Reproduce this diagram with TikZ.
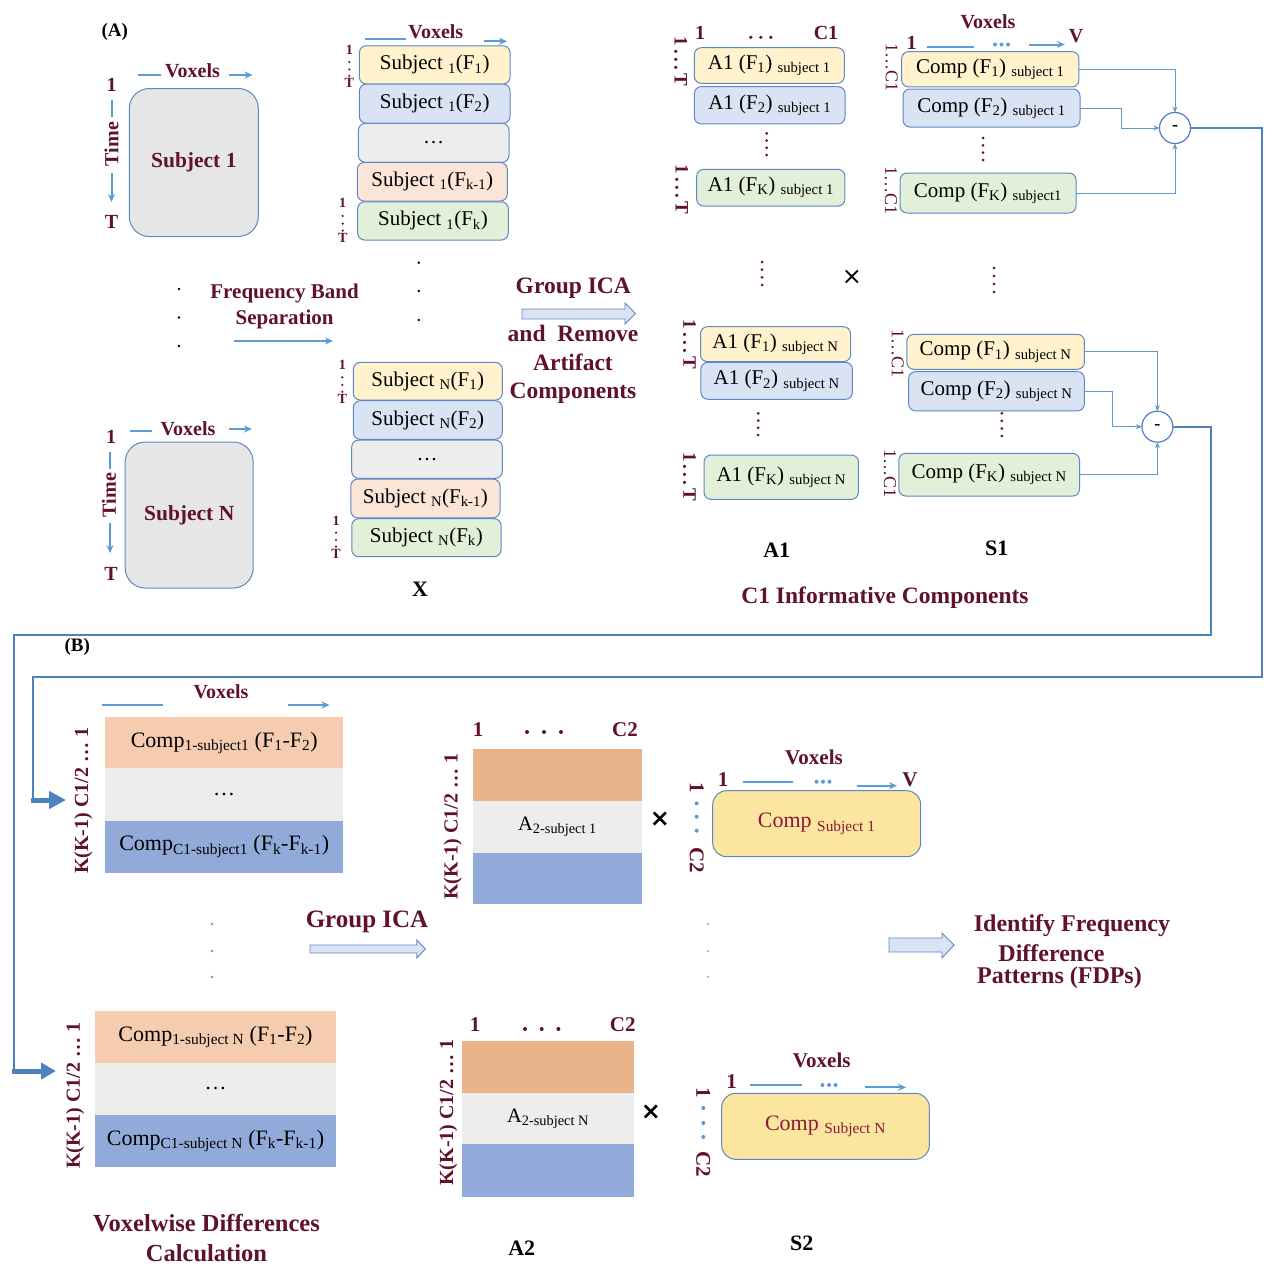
\documentclass[tikz,border=0pt]{standalone}
\usepackage{fontspec}
\setmainfont{Liberation Serif}
\newfontfamily\djv{DejaVu Sans}
\usetikzlibrary{arrows.meta}
\definecolor{mrn}{RGB}{96,17,48}
\definecolor{lblue}{RGB}{91,155,213}
\definecolor{bblue}{RGB}{95,135,195}
\definecolor{cblue}{RGB}{79,129,189}
\definecolor{fyel}{RGB}{255,242,204}
\definecolor{fblu}{RGB}{218,227,243}
\definecolor{fgry}{RGB}{237,237,237}
\definecolor{fpch}{RGB}{251,229,214}
\definecolor{fgrn}{RGB}{226,240,217}
\definecolor{bpch}{RGB}{245,204,175}
\definecolor{aorg}{RGB}{233,179,138}
\definecolor{bblu}{RGB}{146,170,218}
\definecolor{sgold}{RGB}{252,229,158}
\definecolor{sbox}{RGB}{230,230,230}
\definecolor{ctxt}{RGB}{140,25,55}
\newcommand\fsz[2]{\fontsize{#1}{#2}\selectfont}
\newcommand\lsub[1]{\textsubscript{#1}}
\newcommand\vd[3]{\foreach \kk in {0,1,2,3} \fill[mrn] (#1,{#2+\kk*(#3-#2)/3}) circle (1.5pt);}
\newcommand\tlab[4]{\node[tl] (#4a) at (#1,#2) {1}; \node[tl] (#4b) at (#1,#3) {T}; \foreach \ff in {0.36,0.58,0.78} \fill[mrn] (#1,{#2+\ff*(#3-#2)}) circle (1.2pt);}
\tikzset{
 every node/.style={inner sep=0pt, outer sep=0pt},
 lab/.style={font=\bfseries\fsz{20}{24}, text=mrn},
 blk/.style={font=\bfseries\fsz{22}{24}, text=black},
 biglab/.style={font=\bfseries\fsz{23.5}{28}, text=mrn, align=center},
 band/.style={draw=bblue, line width=1pt, rounded corners=7pt, font=\fsz{21}{24}},
 mat/.style={font=\fsz{22}{24}},
 subj/.style={draw=bblue, line width=1pt, rounded corners=20pt, fill=sbox, font=\bfseries\fsz{21.5}{24}, text=mrn},
 s2box/.style={draw=bblue, line width=1pt, rounded corners=14pt, fill=sgold, font=\fsz{22}{24}, text=ctxt},
 ar/.style={draw=lblue, line width=2pt, -{Stealth[length=8pt,width=7pt]}},
 ln/.style={draw=lblue, line width=2pt},
 thinar/.style={draw=lblue, line width=0.9pt, -{Stealth[length=6pt,width=5pt]}},
 rl/.style={font=\bfseries\fsz{19}{22}, text=mrn, rotate=-90},
 rltwo/.style={font=\fsz{18}{20}, text=mrn, rotate=-90},
 rlb/.style={font=\bfseries\fsz{20}{22}, text=mrn, rotate=90},
 rlc/.style={font=\bfseries\fsz{21}{22}, text=mrn, rotate=-90},
 tl/.style={font=\bfseries\fsz{14}{15}, text=mrn},
 hollow/.style={draw=bblue, fill=fblu, line width=0.9pt},
 minus/.style={circle, draw=cblue, line width=1.2pt, minimum size=31pt, fill=white, font=\bfseries\fsz{18}{20}},
 conn/.style={draw=cblue, line width=2pt},
 cross/.style={font=\djv\bfseries\fsz{24}{24}},
}
\begin{document}
\begin{tikzpicture}[x=1pt,y=-1pt]
\useasboundingbox (0,0) rectangle (1276,1272);
\fill[white] (0,0) rectangle (1276,1272);

% ---------------- (A) ----------------
\node[font=\bfseries\fsz{19}{20}] (lA) at (114.7,31.7) {(A)};

% Subject 1
\node[subj, minimum width=129pt, minimum height=148pt] (sub1) at (193.8,162.5) {Subject 1};
\node[lab] (vx1) at (192.5,71) {Voxels};
\draw[ln] (138,75) -- (161,75);
\draw[ar] (229,75) -- (252.5,75);
\node[lab] (one1) at (111.5,85) {1};
\draw[ln] (111.5,100) -- (111.5,117);
\node[lab, rotate=90] (tm1) at (111.5,144) {Time};
\draw[ar] (111.5,172.5) -- (111.5,202);
\node[lab] (T1) at (111.5,221.7) {T};

% Subject N
\node[subj, minimum width=128pt, minimum height=146pt] (subN) at (189.2,515) {Subject N};
\node[lab] (vxN) at (188,429) {Voxels};
\draw[ln] (130,431) -- (152,431);
\draw[ar] (229,429) -- (252,429);
\node[lab] (oneN) at (111,437) {1};
\draw[ln] (110,452) -- (110,469);
\node[lab, rotate=90] (tmN) at (109,495) {Time};
\draw[ar] (110,523) -- (110,553);
\node[lab] (TN) at (111,574) {T};

\foreach \yy in {289,317.5,346} \fill (179,\yy) circle (1.4pt);
\foreach \yy in {262.7,291,320} \fill (418.7,\yy) circle (1.4pt);

\node[biglab, font=\bfseries\fsz{21}{26}] (fb) at (284.6,306.3) {Frequency Band\\Separation};
\draw[ar] (234,341) -- (333,341);

% stack subject 1
\node[band, fill=fyel, minimum width=150.7pt, minimum height=38.3pt] (s1a) at (434.7,64.9) {Subject \lsub{1}(F\lsub{1})};
\node[band, fill=fblu, minimum width=150.7pt, minimum height=39.3pt] (s1b) at (434.7,103.7) {Subject \lsub{1}(F\lsub{2})};
\node[band, fill=fgry, minimum width=150.7pt, minimum height=39pt] (s1c) at (433.7,142.8) {…};
\node[band, fill=fpch, minimum width=150pt, minimum height=38.7pt] (s1d) at (432.3,181.7) {Subject \lsub{1}(F\lsub{k-1})};
\node[band, fill=fgrn, minimum width=150.6pt, minimum height=38.3pt] (s1e) at (433,220.9) {Subject \lsub{1}(F\lsub{k})};
\node[lab] (vxs1) at (435.8,31.7) {Voxels};
\draw[ln] (365,39.3) -- (406,39.3);
\draw[ar] (484,41.3) -- (507,41.3);
\tlab{349.3}{50}{83.3}{ta}
\tlab{342.7}{203.3}{238.3}{tb}

% stack subject N
\node[band, fill=fyel, minimum width=149pt, minimum height=37.7pt] (sna) at (427.8,381.2) {Subject \lsub{N}(F\lsub{1})};
\node[band, fill=fblu, minimum width=149pt, minimum height=38.6pt] (snb) at (427.8,420) {Subject \lsub{N}(F\lsub{2})};
\node[band, fill=fgry, minimum width=150.6pt, minimum height=38.3pt] (snc) at (427,459.2) {…};
\node[band, fill=fpch, minimum width=149.3pt, minimum height=38.7pt] (snd) at (425.4,498.4) {Subject \lsub{N}(F\lsub{k-1})};
\node[band, fill=fgrn, minimum width=149.3pt, minimum height=38pt] (sne) at (426.4,537.7) {Subject \lsub{N}(F\lsub{k})};
\tlab{342.3}{365}{399.3}{tc}
\tlab{336}{520.7}{554}{td}
\node[blk] (Xl) at (420,589.3) {X};

% Group ICA
\node[biglab] (gica) at (573.3,288.3) {Group ICA};
\draw[hollow] (522,309) -- (625,309) -- (625,303) -- (635.5,313.5) -- (625,324) -- (625,319) -- (522,319) -- cycle;
\node[biglab, font=\bfseries\fsz{23.5}{28.6}] (arc) at (573,364.7) {and~~Remove\\Artifact\\Components};

% A1 column
\node[lab] (a1h1) at (700,33.3) {1};
\foreach \k in {-1,0,1} \fill[mrn] ({760.8+\k*10},37.3) circle (1.8pt);
\node[lab] (a1hc) at (826,33.3) {C1};
\node[band, fill=fyel, minimum width=150pt, minimum height=35.6pt] (a1a) at (769.3,65.5) {A1 (F\lsub{1}) \lsub{subject 1}};
\node[band, fill=fblu, minimum width=150.7pt, minimum height=37.3pt] (a1b) at (769.7,105.3) {A1 (F\lsub{2}) \lsub{subject 1}};
\vd{766.7}{133.3}{155}
\node[band, fill=fgrn, minimum width=148.3pt, minimum height=36.7pt] (a1c) at (770.8,187.7) {A1 (F\lsub{K}) \lsub{subject 1}};
\node[rl] (r1) at (680.7,61.3) {1\,.\,.\,.\,T};
\node[rl] (r2) at (681.7,189.2) {1\,.\,.\,.\,T};

\vd{762}{262}{285}
\vd{994}{268}{292}
\node[cross, font=\djv\fsz{24}{24}] (xa) at (852,277) {×};

\node[band, fill=fyel, minimum width=150pt, minimum height=35pt] (a1na) at (775.5,344.2) {A1 (F\lsub{1}) \lsub{subject N}};
\node[band, fill=fblu, minimum width=151.5pt, minimum height=37pt] (a1nb) at (776.7,380.8) {A1 (F\lsub{2}) \lsub{subject N}};
\vd{758.2}{413.3}{435}
\node[band, fill=fgrn, minimum width=154.4pt, minimum height=44.3pt] (a1nc) at (781.2,477.2) {A1 (F\lsub{K}) \lsub{subject N}};
\node[rl] (r3) at (689.5,344.2) {1\,.\,.\,.\,T};
\node[rl] (r4) at (689.5,476.7) {1\,.\,.\,.\,T};
\node[blk] (A1l) at (776.7,550) {A1};

% S1 column
\node[lab] (vxS) at (988,21.7) {Voxels};
\node[lab] (s1h1) at (911.7,43) {1};
\draw[ln] (926.7,47) -- (974,47);
\foreach \k in {-1,0,1} \fill[lblue] ({1001.5+\k*6.5},44.5) circle (2pt);
\draw[ar] (1029,44.5) -- (1065,44.5);
\node[lab] (s1hv) at (1076,36) {V};
\node[band, fill=fyel, minimum width=177.3pt, minimum height=35.3pt] (ca) at (990.3,69.3) {Comp (F\lsub{1}) \lsub{subject 1}};
\node[band, fill=fblu, minimum width=177pt, minimum height=38pt] (cb) at (991.5,108) {Comp (F\lsub{2}) \lsub{subject 1}};
\vd{983}{138}{160}
\node[band, fill=fgrn, minimum width=176pt, minimum height=40pt] (cc) at (988,193) {Comp (F\lsub{K}) \lsub{subject1}};
\node[rltwo] (r5) at (891.7,67.2) {1…C1};
\node[rltwo] (r6) at (891,190) {1…C1};
\node[minus] (m1) at (1175,128) {-};
\draw[thinar] (ca.east) -| (m1.north);
\draw[thinar] (cb.east) -- ++(41,0) |- (m1.west);
\draw[thinar] (cc.east) -| (m1.south);

\node[band, fill=fyel, minimum width=177.6pt, minimum height=35pt] (cna) at (995.6,351.8) {Comp (F\lsub{1}) \lsub{subject N}};
\node[band, fill=fblu, minimum width=175.7pt, minimum height=39.3pt] (cnb) at (996.5,391.3) {Comp (F\lsub{2}) \lsub{subject N}};
\vd{1001.8}{413.3}{436}
\node[band, fill=fgrn, minimum width=180.7pt, minimum height=42.7pt] (cnc) at (989.2,474.7) {Comp (F\lsub{K}) \lsub{subject N}};
\node[rltwo] (r7) at (897.7,353) {1…C1};
\node[rltwo] (r8) at (889.9,473) {1…C1};
\node[minus] (m2) at (1157.4,426.7) {-};
\draw[thinar] (cna.east) -| (m2.north);
\draw[thinar] (cnb.east) -- ++(28,0) |- (m2.west);
\draw[thinar] (cnc.east) -| (m2.south);
\node[blk] (S1l) at (996.7,548.3) {S1};
\node[biglab] (c1inf) at (885,598) {C1 Informative Components};

% long connectors
\coordinate (in1) at (66,800);
\coordinate (in2) at (56,1071);
\draw[conn] (m1.east) -- (1262,128) -- (1262,677) -- (33,677) -- (33,800);
\draw[cblue, line width=5pt, -{Triangle[length=17pt,width=17pt]}] (31,800) -- (in1);
\draw[conn] (m2.east) -- (1211,426.7) -- (1211,635) -- (14,635) -- (14,1071);
\draw[cblue, line width=5pt, -{Triangle[length=15pt,width=16pt]}] (12,1071) -- (in2);

% ---------------- (B) ----------------
\node[font=\bfseries\fsz{19}{20}] (lB) at (77.3,647.3) {(B)};

\node[fill=bpch, minimum width=238.3pt, minimum height=51pt, mat] (b1a) at (224.2,742.8) {Comp\lsub{1-subject1} (F\lsub{1}-F\lsub{2})};
\node[fill=fgry, minimum width=238.3pt, minimum height=52.4pt, mat] (b1b) at (224.2,794.5) {…};
\node[fill=bblu, minimum width=238.3pt, minimum height=52pt, mat] (b1c) at (224.2,846.7) {Comp\lsub{C1-subject1} (F\lsub{k}-F\lsub{k-1})};
\node[lab] (vxb1) at (221,692) {Voxels};
\draw[ln] (101.7,705) -- (163,705);
\draw[ar] (288,705) -- (329.5,705);
\node[rlb] (kk1) at (83.3,800.8) {K(K-1) C1/2 … 1};

\foreach \yy in {924,951,977} \fill[lblue] (212,\yy) circle (1.3pt);
\foreach \yy in {924,951,977} \fill[black!35] (708,\yy) circle (1.2pt);
\node[biglab, font=\bfseries\fsz{25}{28}] (gicab) at (367,921.5) {Group ICA};
\draw[hollow] (310,945) -- (416.7,945) -- (416.7,940) -- (425.5,949) -- (416.7,958) -- (416.7,953) -- (310,953) -- cycle;

\node[fill=bpch, minimum width=241pt, minimum height=51.7pt, mat] (b2a) at (215.5,1036.8) {Comp\lsub{1-subject N} (F\lsub{1}-F\lsub{2})};
\node[fill=fgry, minimum width=241pt, minimum height=52.3pt, mat] (b2b) at (215.5,1088.8) {…};
\node[fill=bblu, minimum width=241pt, minimum height=51.7pt, mat] (b2c) at (215.5,1140.8) {Comp\lsub{C1-subject N} (F\lsub{k}-F\lsub{k-1})};
\node[rlb] (kk2) at (75,1095.8) {K(K-1) C1/2 … 1};
\node[biglab, font=\bfseries\fsz{24.5}{30}] (vdc) at (206.5,1238) {Voxelwise Differences\\Calculation};

% A2 subject 1
\node[lab, font=\bfseries\fsz{21}{24}] (a2h1) at (478,730) {1};
\foreach \k in {-1,0,1} \fill[mrn] ({544+\k*17},732) circle (2pt);
\node[lab, font=\bfseries\fsz{21}{24}] (a2hc) at (625,730) {C2};
\node[fill=aorg, minimum width=168.4pt, minimum height=51.7pt] (a2a) at (557.5,775.2) {};
\node[fill=fgry, minimum width=168.4pt, minimum height=51.7pt, font=\fsz{20.5}{22}] (a2b) at (557.5,826.8) {A\lsub{2-subject 1}};
\node[fill=bblu, minimum width=168.4pt, minimum height=51.7pt] (a2c) at (557.5,878.5) {};
\node[rlb] (kk3) at (452.7,826.7) {K(K-1) C1/2 … 1};
\node[cross] (xb) at (660,819) {×};

% S2 subject 1
\node[lab, font=\bfseries\fsz{21}{24}] (vxs2) at (814,757) {Voxels};
\node[lab, font=\bfseries\fsz{21}{24}] (s2h1) at (723,780) {1};
\draw[ln] (742.7,782) -- (793,782);
\foreach \k in {-1,0,1} \fill[lblue] ({823+\k*6.5},781.7) circle (2pt);
\draw[ar] (856.7,785.7) -- (897,785.7);
\node[lab, font=\bfseries\fsz{21}{24}] (s2hv) at (910,780) {V};
\node[s2box, minimum width=208pt, minimum height=66pt] (s2a) at (816.7,823.7) {Comp \lsub{Subject 1}};
\node[rlc] (s2r1) at (696.7,787.5) {1};
\foreach \yy in {803.3,816.7,830.7} \fill[lblue] (696.7,\yy) circle (2pt);
\node[rlc] (s2r2) at (696.7,860) {C2};

% A2 subject N
\node[lab, font=\bfseries\fsz{21}{24}] (a2nh1) at (475,1025) {1};
\foreach \k in {-1,0,1} \fill[mrn] ({541.7+\k*16.7},1029) circle (2pt);
\node[lab, font=\bfseries\fsz{21}{24}] (a2nhc) at (622.7,1025) {C2};
\node[fill=aorg, minimum width=172.6pt, minimum height=52pt] (a2na) at (548,1066.7) {};
\node[fill=fgry, minimum width=172.6pt, minimum height=51.6pt, font=\fsz{20.5}{22}] (a2nb) at (548,1118.5) {A\lsub{2-subject N}};
\node[fill=bblu, minimum width=172.6pt, minimum height=52.4pt] (a2nc) at (548,1170.5) {};
\node[rlb] (kk4) at (448.3,1112.5) {K(K-1) C1/2 … 1};
\node[cross] (xc) at (651,1111.7) {×};
\node[blk] (A2l) at (521.7,1248.3) {A2};

% S2 subject N
\node[lab, font=\bfseries\fsz{21}{24}] (vxs2n) at (821.7,1060) {Voxels};
\node[lab, font=\bfseries\fsz{21}{24}] (s2nh1) at (731.7,1081.7) {1};
\draw[ln] (750,1085) -- (801.7,1085);
\foreach \k in {-1,0,1} \fill[lblue] ({829+\k*6.5},1085) circle (2pt);
\draw[ar] (865,1087.3) -- (906,1087.3);
\node[s2box, minimum width=207.6pt, minimum height=66pt] (s2n) at (825.5,1126.3) {Comp \lsub{Subject N}};
\node[rlc] (s2nr1) at (703.3,1093) {1};
\foreach \yy in {1108,1123,1137} \fill[lblue] (703.3,\yy) circle (2pt);
\node[rlc] (s2nr2) at (703.3,1164) {C2};
\node[blk] (S2l) at (801.7,1243.3) {S2};

% FDPs
\draw[hollow] (889,938) -- (942,938) -- (942,933) -- (954,945) -- (942,958) -- (942,952) -- (889,952) -- cycle;
\node[biglab, font=\bfseries\fsz{24}{26}] (fdp1) at (1072,926) {Identify Frequency};
\node[biglab, font=\bfseries\fsz{24}{26}] (fdp2) at (1051.5,953) {Difference};
\node[biglab, font=\bfseries\fsz{24}{26}] (fdp3) at (1059.5,978) {Patterns (FDPs)};
\end{tikzpicture}
\end{document}
